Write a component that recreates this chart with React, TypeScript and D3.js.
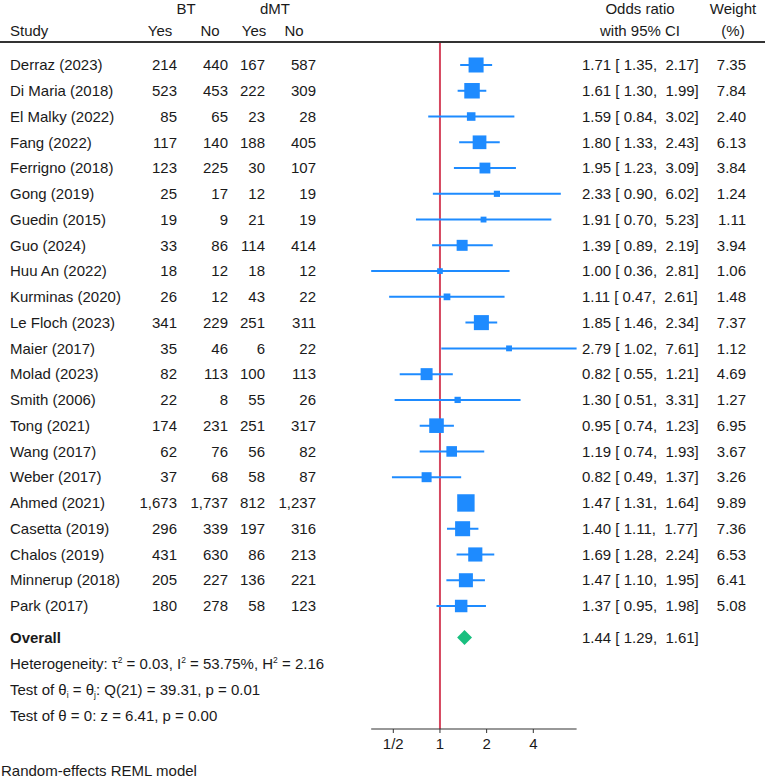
import React from 'react';
import * as d3 from 'd3';

const studies = ["Derraz (2023)", "Di Maria (2018)", "El Malky (2022)", "Fang (2022)", "Ferrigno (2018)", "Gong (2019)", "Guedin (2015)", "Guo (2024)", "Huu An (2022)", "Kurminas (2020)", "Le Floch (2023)", "Maier (2017)", "Molad (2023)", "Smith (2006)", "Tong (2021)", "Wang (2017)", "Weber (2017)", "Ahmed (2021)", "Casetta (2019)", "Chalos (2019)", "Minnerup (2018)", "Park (2017)"];
const btYes = [214, 523, 85, 117, 123, 25, 19, 33, 18, 26, 341, 35, 82, 22, 174, 62, 37, 1673, 296, 431, 205, 180];
const btNo = [440, 453, 65, 140, 225, 17, 9, 86, 12, 12, 229, 46, 113, 8, 231, 76, 68, 1737, 339, 630, 227, 278];
const dmtYes = [167, 222, 23, 188, 30, 12, 21, 114, 18, 43, 251, 6, 100, 55, 251, 56, 58, 812, 197, 86, 136, 58];
const dmtNo = [587, 309, 28, 405, 107, 19, 19, 414, 12, 22, 311, 22, 113, 26, 317, 82, 87, 1237, 316, 213, 221, 123];
const oddsRatio = [1.71, 1.61, 1.59, 1.80, 1.95, 2.33, 1.91, 1.39, 1.00, 1.11, 1.85, 2.79, 0.82, 1.30, 0.95, 1.19, 0.82, 1.47, 1.40, 1.69, 1.47, 1.37];
const ciLow = [1.35, 1.30, 0.84, 1.33, 1.23, 0.90, 0.70, 0.89, 0.36, 0.47, 1.46, 1.02, 0.55, 0.51, 0.74, 0.74, 0.49, 1.31, 1.11, 1.28, 1.10, 0.95];
const ciHigh = [2.17, 1.99, 3.02, 2.43, 3.09, 6.02, 5.23, 2.19, 2.81, 2.61, 2.34, 7.61, 1.21, 3.31, 1.23, 1.93, 1.37, 1.64, 1.77, 2.24, 1.95, 1.98];
const weights = [7.35, 7.84, 2.40, 6.13, 3.84, 1.24, 1.11, 3.94, 1.06, 1.48, 7.37, 1.12, 4.69, 1.27, 6.95, 3.67, 3.26, 9.89, 7.36, 6.53, 6.41, 5.08];
const overall = [1.44, 1.29, 1.61];
const tickValues = [0.5, 1, 2, 4];
const tickLabels = ["1/2", "1", "2", "4"];

const W = 767, H = 782;
const FONT = "'Liberation Sans', Arial, sans-serif";
const FS = 15;
const BLUE = "#1e8bff";
const RED = "#d6475f";
const GREEN = "#19bf7f";
const INK = "#1a1a1a";

export default function App() {
  const x = d3.scaleLog().base(2).domain([0.5, 4]).range([393.3, 533.3]);
  const y = d3.scaleLinear().domain([0, 21]).range([65, 606]);
  const size = d3.scaleSqrt().domain([0, 10]).range([0, 17.5]);
  const cnt = d3.format(",");
  const f2 = d3.format(".2f");
  const axisY = 729;
  const overallY = 637.5;
  const axisStart = x(d3.min(ciLow) as number);
  const axisEnd = x(d3.max(ciHigh) as number);
  const ciText = (o: number, l: number, h: number) => `${f2(o)} [ ${f2(l)},  ${f2(h)}]`;

  const cols = [
    { vals: btYes, right: 177 },
    { vals: btNo, right: 228 },
    { vals: dmtYes, right: 265 },
    { vals: dmtNo, right: 316 },
  ];

  return (
    <svg width={W} height={H} style={{ position: 'absolute', left: 0, top: 0, background: '#fff' }}
      fontFamily={FONT} fontSize={FS} fill={INK}>
      {/* column headers */}
      <text x={186} y={9} dy="0.35em" textAnchor="middle">BT</text>
      <text x={275} y={9} dy="0.35em" textAnchor="middle">dMT</text>
      <text x={10} y={31} dy="0.35em">Study</text>
      <text x={160} y={31} dy="0.35em" textAnchor="middle">Yes</text>
      <text x={210} y={31} dy="0.35em" textAnchor="middle">No</text>
      <text x={254} y={31} dy="0.35em" textAnchor="middle">Yes</text>
      <text x={294} y={31} dy="0.35em" textAnchor="middle">No</text>
      <text x={640} y={9} dy="0.35em" textAnchor="middle">Odds ratio</text>
      <text x={640} y={31} dy="0.35em" textAnchor="middle">with 95% CI</text>
      <text x={733} y={9} dy="0.35em" textAnchor="middle">Weight</text>
      <text x={733} y={31} dy="0.35em" textAnchor="middle">(%)</text>
      <line x1={0} x2={765} y1={42} y2={42} stroke="#333" strokeWidth={2} />

      {/* no-effect reference line */}
      <line x1={x(1)} x2={x(1)} y1={43} y2={axisY} stroke={RED} strokeWidth={2} />

      {studies.map((s, i) => {
        const cy = y(i);
        const side = size(weights[i]);
        return (
          <g key={s}>
            <text x={10} y={cy} dy="0.35em">{s}</text>
            {cols.map((c, j) => (
              <text key={j} x={c.right} y={cy} dy="0.35em" textAnchor="end">{cnt(c.vals[i])}</text>
            ))}
            <line x1={x(ciLow[i])} x2={x(ciHigh[i])} y1={cy} y2={cy} stroke={BLUE} strokeWidth={2} />
            <rect x={x(oddsRatio[i]) - side / 2} y={cy - side / 2} width={side} height={side} fill={BLUE} />
            <text x={582} y={cy} dy="0.35em" style={{ whiteSpace: 'pre' }}>{ciText(oddsRatio[i], ciLow[i], ciHigh[i])}</text>
            <text x={746} y={cy} dy="0.35em" textAnchor="end">{f2(weights[i])}</text>
          </g>
        );
      })}

      {/* pooled estimate */}
      <text x={10} y={overallY} dy="0.35em" fontWeight="bold">Overall</text>
      <path
        d={`M${x(overall[1])},${overallY} L${x(overall[0])},${overallY - 7.5} L${x(overall[2])},${overallY} L${x(overall[0])},${overallY + 7.5} Z`}
        fill={GREEN} />
      <text x={582} y={overallY} dy="0.35em" style={{ whiteSpace: 'pre' }}>{ciText(overall[0], overall[1], overall[2])}</text>

      <text x={10} y={663.5} dy="0.35em">
        Heterogeneity: τ<tspan dy="-6" fontSize={8.5}>2</tspan><tspan dy="6"> = 0.03, I</tspan>
        <tspan dy="-6" fontSize={8.5}>2</tspan><tspan dy="6"> = 53.75%, H</tspan>
        <tspan dy="-6" fontSize={8.5}>2</tspan><tspan dy="6"> = 2.16</tspan>
      </text>
      <text x={10} y={689.5} dy="0.35em">
        Test of θ<tspan dy="3" fontSize={8.5}>i</tspan><tspan dy="-3"> = θ</tspan>
        <tspan dy="3" fontSize={8.5}>j</tspan><tspan dy="-3">: Q(21) = 39.31, p = 0.01</tspan>
      </text>
      <text x={10} y={715.5} dy="0.35em">Test of θ = 0: z = 6.41, p = 0.00</text>

      {/* log axis */}
      <line x1={axisStart} x2={axisEnd} y1={axisY} y2={axisY} stroke="#333" strokeWidth={1.2} />
      {tickValues.map((t, i) => (
        <g key={t}>
          <line x1={x(t)} x2={x(t)} y1={axisY} y2={axisY + 4} stroke="#333" strokeWidth={1} />
          <text x={x(t)} y={744} dy="0.35em" textAnchor="middle">{tickLabels[i]}</text>
        </g>
      ))}

      <text x={1} y={771} dy="0.35em">Random-effects REML model</text>
    </svg>
  );
}
